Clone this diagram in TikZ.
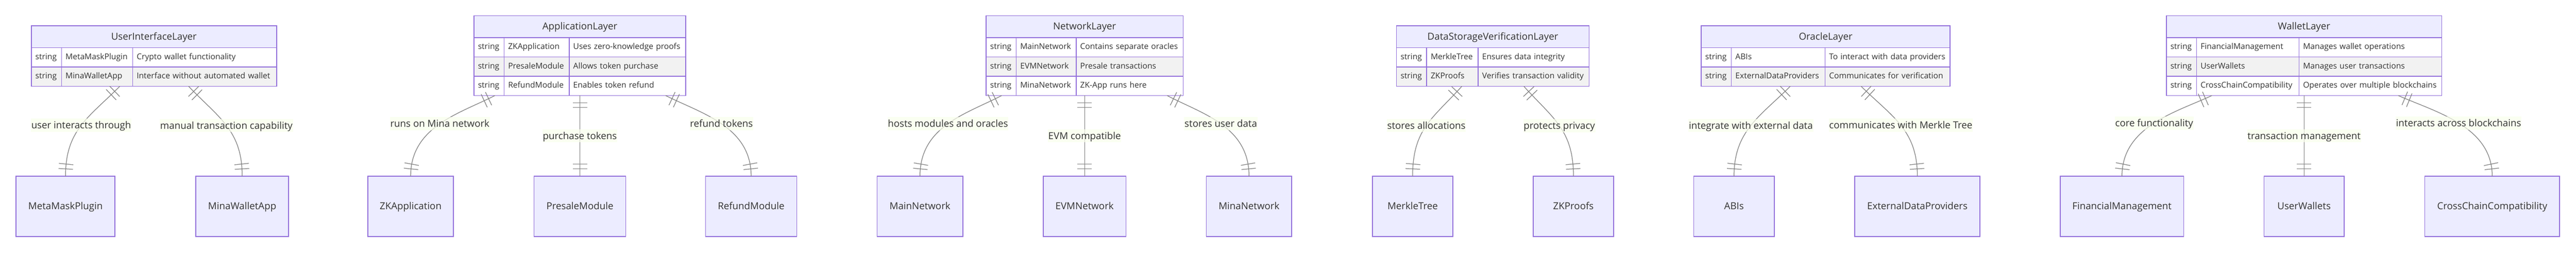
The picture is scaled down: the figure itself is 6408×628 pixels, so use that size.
\documentclass[tikz,border=0pt]{standalone}
\usepackage{fontspec}
\setmainfont{Open Sans}
\usepackage{xcolor}
\usetikzlibrary{positioning, decorations.markings}
\definecolor{er}{HTML}{9370DB}
\definecolor{lav}{HTML}{ECECFF}
\definecolor{rowg}{HTML}{F2F2F2}
\definecolor{txt}{HTML}{333333}
\definecolor{relgray}{HTML}{808080}
\definecolor{lblbg}{HTML}{F9FFEC}

\begin{document}
\begin{tikzpicture}[x=1pt, y=-1pt,
  every node/.style={text=txt, outer sep=0pt},
  tbl/.style={draw=er, line width=2pt, inner sep=0pt, anchor=north west},
  head/.style={draw=er, fill=lav, line width=2pt, inner sep=0pt, minimum height=54.5pt,
    text height=17pt, text depth=1pt, font=\fontsize{24pt}{28pt}\selectfont},
  cell/.style={draw=er, line width=2pt, inner xsep=10pt, inner ysep=0pt, minimum height=48pt,
    text height=15pt, text depth=5pt, align=left, font=\fontsize{20pt}{24pt}\selectfont,
    execute at begin node={\hbox to 0pt\bgroup}, execute at end node={\hss\egroup}},
  rowa/.style={cell, fill=white},
  rowb/.style={cell, fill=rowg},
  ent/.style={draw=er, fill=lav, line width=2pt, minimum height=150pt,
    text height=17pt, text depth=1pt, font=\fontsize{24pt}{28pt}\selectfont},
  lbl/.style={fill=lblbg, fill opacity=0.7, text opacity=1, inner xsep=1pt, inner ysep=0pt,
    text height=25pt, text depth=8pt, font=\fontsize{24pt}{28pt}\selectfont, pos=0.5},
  onebar/.style={draw=relgray, line width=1.6pt},
  rel/.style={draw=relgray, line width=1.6pt, postaction={decorate},
    decoration={markings,
      mark=at position 18pt with {\draw[onebar] (0pt,-18pt) -- (0pt,18pt);},
      mark=at position 30pt with {\draw[onebar] (0pt,-18pt) -- (0pt,18pt);},
      mark=at position -18pt with {\draw[onebar] (0pt,-18pt) -- (0pt,18pt);},
      mark=at position -30pt with {\draw[onebar] (0pt,-18pt) -- (0pt,18pt);}}}]
\fill[white] (0,0) rectangle (6408,628);
\useasboundingbox (0,0) rectangle (6408,628);

% UserInterfaceLayer
\node[tbl, minimum width=610pt, minimum height=150.5pt] (ui) at (78,64) {};
\node[head, minimum width=610pt, below right=0pt of ui.north west] (ui-h) {UserInterfaceLayer};
\node[rowa, text width=55pt, below right=0pt of ui-h.south west] (ui-1a) {string};
\node[rowa, text width=157pt, right=0pt of ui-1a] (ui-1b) {MetaMaskPlugin};
\node[rowa, text width=338pt, right=0pt of ui-1b] (ui-1c) {Crypto wallet functionality};
\node[rowb, text width=55pt, below=0pt of ui-1a] (ui-2a) {string};
\node[rowb, text width=157pt, right=0pt of ui-2a] (ui-2b) {MinaWalletApp};
\node[rowb, text width=338pt, right=0pt of ui-2b] (ui-2c) {Interface without automated wallet};

% ApplicationLayer
\node[tbl, minimum width=527pt, minimum height=198.5pt] (app) at (1179,39) {};
\node[head, minimum width=527pt, below right=0pt of app.north west] (app-h) {ApplicationLayer};
\node[rowa, text width=55pt, below right=0pt of app-h.south west] (app-1a) {string};
\node[rowa, text width=142pt, right=0pt of app-1a] (app-1b) {ZKApplication};
\node[rowa, text width=270pt, right=0pt of app-1b] (app-1c) {Uses zero-knowledge proofs};
\node[rowb, text width=55pt, below=0pt of app-1a] (app-2a) {string};
\node[rowb, text width=142pt, right=0pt of app-2a] (app-2b) {PresaleModule};
\node[rowb, text width=270pt, right=0pt of app-2b] (app-2c) {Allows token purchase};
\node[rowa, text width=55pt, below=0pt of app-2a] (app-3a) {string};
\node[rowa, text width=142pt, right=0pt of app-3a] (app-3b) {RefundModule};
\node[rowa, text width=270pt, right=0pt of app-3b] (app-3c) {Enables token refund};

% NetworkLayer
\node[tbl, minimum width=490pt, minimum height=198.5pt] (net) at (2453,39) {};
\node[head, minimum width=490pt, below right=0pt of net.north west] (net-h) {NetworkLayer};
\node[rowa, text width=55pt, below right=0pt of net-h.south west] (net-1a) {string};
\node[rowa, text width=129pt, right=0pt of net-1a] (net-1b) {MainNetwork};
\node[rowa, text width=246pt, right=0pt of net-1b] (net-1c) {Contains separate oracles};
\node[rowb, text width=55pt, below=0pt of net-1a] (net-2a) {string};
\node[rowb, text width=129pt, right=0pt of net-2a] (net-2b) {EVMNetwork};
\node[rowb, text width=246pt, right=0pt of net-2b] (net-2c) {Presale transactions};
\node[rowa, text width=55pt, below=0pt of net-2a] (net-3a) {string};
\node[rowa, text width=129pt, right=0pt of net-3a] (net-3b) {MinaNetwork};
\node[rowa, text width=246pt, right=0pt of net-3b] (net-3c) {ZK-App runs here};

% DataStorageVerificationLayer
\node[tbl, minimum width=479pt, minimum height=150.5pt] (dsv) at (3474,64) {};
\node[head, minimum width=479pt, below right=0pt of dsv.north west] (dsv-h) {DataStorageVerificationLayer};
\node[rowa, text width=55pt, below right=0pt of dsv-h.south west] (dsv-1a) {string};
\node[rowa, text width=108pt, right=0pt of dsv-1a] (dsv-1b) {MerkleTree};
\node[rowa, text width=256pt, right=0pt of dsv-1b] (dsv-1c) {Ensures data integrity};
\node[rowb, text width=55pt, below=0pt of dsv-1a] (dsv-2a) {string};
\node[rowb, text width=108pt, right=0pt of dsv-2a] (dsv-2b) {ZKProofs};
\node[rowb, text width=256pt, right=0pt of dsv-2b] (dsv-2c) {Verifies transaction validity};

% OracleLayer
\node[tbl, minimum width=619pt, minimum height=150.5pt] (orc) at (4232,64) {};
\node[head, minimum width=619pt, below right=0pt of orc.north west] (orc-h) {OracleLayer};
\node[rowa, text width=55pt, below right=0pt of orc-h.south west] (orc-1a) {string};
\node[rowa, text width=213pt, right=0pt of orc-1a] (orc-1b) {ABIs};
\node[rowa, text width=291pt, right=0pt of orc-1b] (orc-1c) {To interact with data providers};
\node[rowb, text width=55pt, below=0pt of orc-1a] (orc-2a) {string};
\node[rowb, text width=213pt, right=0pt of orc-2a] (orc-2b) {ExternalDataProviders};
\node[rowb, text width=291pt, right=0pt of orc-2b] (orc-2c) {Communicates for verification};

% WalletLayer
\node[tbl, minimum width=685pt, minimum height=198.5pt] (wal) at (5389,39) {};
\node[head, minimum width=685pt, below right=0pt of wal.north west] (wal-h) {WalletLayer};
\node[rowa, text width=55pt, below right=0pt of wal-h.south west] (wal-1a) {string};
\node[rowa, text width=235pt, right=0pt of wal-1a] (wal-1b) {FinancialManagement};
\node[rowa, text width=335pt, right=0pt of wal-1b] (wal-1c) {Manages wallet operations};
\node[rowb, text width=55pt, below=0pt of wal-1a] (wal-2a) {string};
\node[rowb, text width=235pt, right=0pt of wal-2a] (wal-2b) {UserWallets};
\node[rowb, text width=335pt, right=0pt of wal-2b] (wal-2c) {Manages user transactions};
\node[rowa, text width=55pt, below=0pt of wal-2a] (wal-3a) {string};
\node[rowa, text width=235pt, right=0pt of wal-3a] (wal-3b) {CrossChainCompatibility};
\node[rowa, text width=335pt, right=0pt of wal-3b] (wal-3c) {Operates over multiple blockchains};

% Componentes
\node[ent, minimum width=246pt] (mmp) at (163,513) {MetaMaskPlugin};
\node[ent, minimum width=231pt] (mwa) at (602.5,513) {MinaWalletApp};
\node[ent, minimum width=213pt] (zka) at (1021.5,513) {ZKApplication};
\node[ent, minimum width=228pt] (pm) at (1442.5,513) {PresaleModule};
\node[ent, minimum width=227pt] (rm) at (1868.5,513) {RefundModule};
\node[ent, minimum width=213pt] (mn) at (2288.5,513) {MainNetwork};
\node[ent, minimum width=206pt] (evm) at (2698,513) {EVMNetwork};
\node[ent, minimum width=212pt] (mina) at (3107,513) {MinaNetwork};
\node[ent, minimum width=200pt] (mt) at (3514,513) {MerkleTree};
\node[ent, minimum width=200pt] (zkp) at (3914,513) {ZKProofs};
\node[ent, minimum width=201pt] (abi) at (4313.5,513) {ABIs};
\node[ent, minimum width=311pt] (edp) at (4769.5,513) {ExternalDataProviders};
\node[ent, minimum width=307pt] (fm) at (5278.5,513) {FinancialManagement};
\node[ent, minimum width=199pt] (uw) at (5731.5,513) {UserWallets};
\node[ent, minimum width=335pt] (ccc) at (6199.5,513) {CrossChainCompatibility};

% Relaciones
\draw[rel] ([xshift=-85pt]ui.south) .. controls +(-76,77) and +(0,-116) .. node[lbl] {user interacts through} (mmp.north);
\draw[rel] ([xshift=86pt]ui.south) .. controls +(73,77) and +(0,-115) .. node[lbl] {manual transaction capability} (mwa.north);
\draw[rel] ([xshift=-211pt]app.south) .. controls +(-86,44) and +(0,-124) .. node[lbl] {runs on Mina network} (zka.north);
\draw[rel] (app.south) -- node[lbl] {purchase tokens} (pm.north);
\draw[rel] ([xshift=213pt]app.south) .. controls +(87,44) and +(0,-124) .. node[lbl] {refund tokens} (rm.north);
\draw[rel] ([xshift=-206pt]net.south) .. controls +(-86,45) and +(0,-125) .. node[lbl] {hosts modules and oracles} (mn.north);
\draw[rel] (net.south) -- node[lbl] {EVM compatible} (evm.north);
\draw[rel] ([xshift=205pt]net.south) .. controls +(85,45) and +(0,-125) .. node[lbl] {stores user data} (mina.north);
\draw[rel] ([xshift=-77pt]dsv.south) .. controls +(-72,80) and +(0,-118) .. node[lbl] {stores allocations} (mt.north);
\draw[rel] ([xshift=77pt]dsv.south) .. controls +(71,79) and +(0,-116) .. node[lbl] {protects privacy} (zkp.north);
\draw[rel] ([xshift=-88pt]orc.south) .. controls +(-75,75) and +(0,-113) .. node[lbl] {integrate with external data} (abi.north);
\draw[rel] ([xshift=88pt]orc.south) .. controls +(77,76) and +(0,-115) .. node[lbl] {communicates with Merkle Tree} (edp.north);
\draw[rel] ([xshift=-229pt]wal.south) .. controls +(-85,40) and +(0,-125) .. node[lbl] {core functionality} (fm.north);
\draw[rel] (wal.south) -- node[lbl] {transaction management} (uw.north);
\draw[rel] ([xshift=234pt]wal.south) .. controls +(89,40) and +(0,-125) .. node[lbl] {interacts across blockchains} (ccc.north);
\end{tikzpicture}
\end{document}
